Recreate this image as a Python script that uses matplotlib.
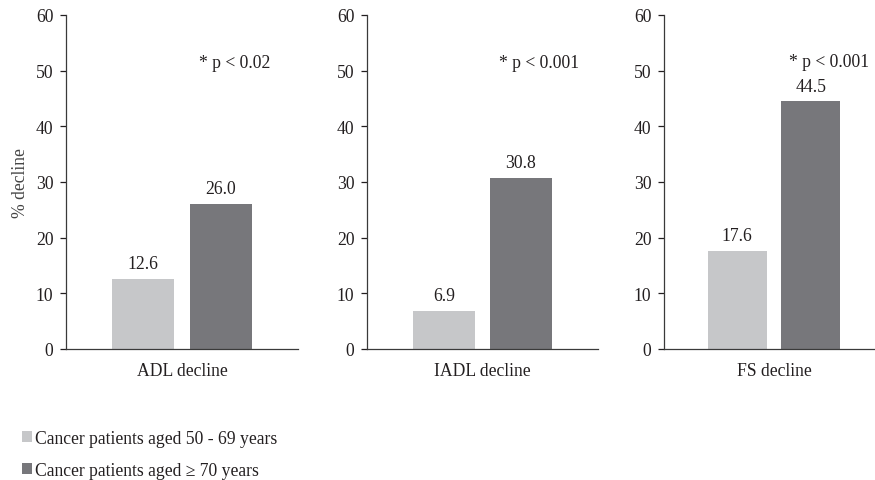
import matplotlib
matplotlib.use("Agg")
import matplotlib.pyplot as plt
from matplotlib.patches import Patch

categories = ["ADL decline", "IADL decline", "FS decline"]
series_labels = ["Cancer patients aged 50 - 69 years", "Cancer patients aged \u2265 70 years"]
young = [12.6, 6.9, 17.6]
old = [26.0, 30.8, 44.5]
p_labels = ["* p < 0.02", "* p < 0.001", "* p < 0.001"]
y_ticks = [0, 10, 20, 30, 40, 50, 60]

plt.rcParams['font.family'] = ['Liberation Serif', 'DejaVu Serif']
TXT = '#231f20'
LIGHT = '#c6c7c9'
DARK = '#77777b'
FS = 12.7

fig = plt.figure(figsize=(8.75, 4.81), dpi=100)
W, H = 875.0, 481.0
bottom = 1 - 350 / H
height = (350 - 16) / H
panels = [(66, 232), (367, 231), (664, 220)]
p_x = [1.18, 1.23, 1.25]
p_y = [51.5, 51.5, 51.7]

for i, (left, width) in enumerate(panels):
    ax = fig.add_axes([left / W, bottom, width / W, height])
    ax.bar([0], [young[i]], width=0.8, color=LIGHT, edgecolor='none')
    ax.bar([1], [old[i]], width=0.8, color=DARK, edgecolor='none')
    for x, v in ((0, young[i]), (1, old[i])):
        ax.annotate(f"{v:.1f}", (x, v), xytext=(0, 11), textcoords='offset points',
                    ha='center', va='center', fontsize=FS, color=TXT)
    ax.text(p_x[i], p_y[i], p_labels[i], ha='center', va='center', fontsize=FS, color=TXT)
    ax.set_xlim(-1, 2)
    ax.set_ylim(0, 60)
    ax.set_yticks(y_ticks)
    ax.set_xticks([0.5])
    ax.set_xticklabels([categories[i]])
    ax.tick_params(axis='x', length=0, pad=9, labelsize=FS, colors=TXT)
    ax.tick_params(axis='y', length=4, width=0.9, pad=5, labelsize=FS, colors=TXT, direction='out')
    for s in ('top', 'right'):
        ax.spines[s].set_visible(False)
    for s in ('left', 'bottom'):
        ax.spines[s].set_color('#3a3a3a')
        ax.spines[s].set_linewidth(0.9)
    if i == 0:
        ax.set_ylabel('% decline', fontsize=FS, color='#444444', labelpad=5)

handles = [Patch(facecolor=LIGHT, edgecolor='none'), Patch(facecolor=DARK, edgecolor='none')]
fig.legend(handles, series_labels, loc='upper left', bbox_to_anchor=(22 / W, 1 - 431 / H),
           frameon=False, fontsize=FS, handlelength=0.57, handleheight=0.57,
           handletextpad=0.17, labelspacing=0.85, borderaxespad=0, borderpad=0,
           labelcolor=TXT)

fig.savefig('out.png', dpi=100)
